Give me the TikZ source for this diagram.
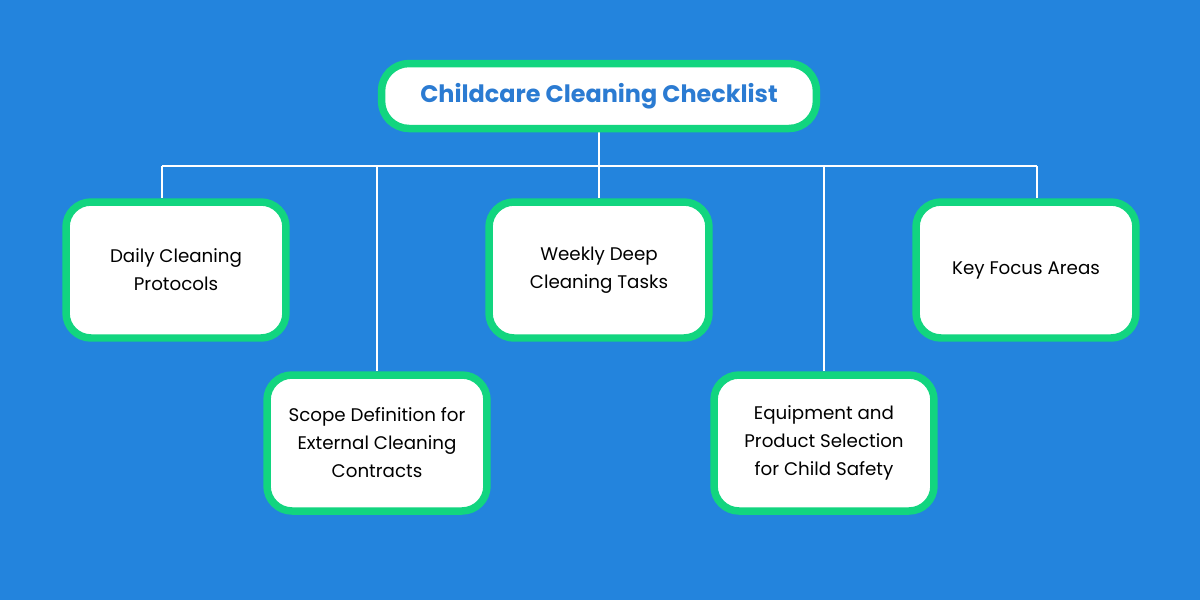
\documentclass[tikz,border=0pt]{standalone}
\usepackage{fontspec}
\setmainfont{Poppins}
\usepackage{xcolor}
\usetikzlibrary{backgrounds}
\definecolor{bgblue}{HTML}{2384DD}
\definecolor{boxgreen}{HTML}{12D57F}
\definecolor{titleblue}{HTML}{2B7BD2}

\begin{document}
\begin{tikzpicture}[x=0.02cm,y=-0.02cm,
  topic/.style={draw=boxgreen,line width=0.15cm,fill=white,rounded corners=0.5cm,
    minimum width=4.4cm,minimum height=2.72cm,align=center,
    font=\fontsize{10.4}{15.9}\selectfont,text=black},
  rootbox/.style={topic,minimum width=8.7cm,minimum height=1.3cm,rounded corners=0.55cm,
    font=\fontsize{13.6}{16}\selectfont\bfseries,text=titleblue},
  bus/.style={draw=white,line width=0.04cm}]
%% root and topics
\node[rootbox] (root) at (599,96) {Childcare Cleaning Checklist};
\node[topic] (daily) at (176,270) {Daily Cleaning\\Protocols};
\node[topic] (weekly) at (599,270) {Weekly Deep\\Cleaning Tasks};
\node[topic] (focus) at (1026,270) {Key Focus Areas};
\node[topic] (scope) at (377,443) {Scope Definition for\\External Cleaning\\Contracts};
\node[topic] (equip) at (824,443) {Equipment and\\Product Selection\\for Child Safety};
%% connectors, behind the boxes
\coordinate (busL) at (162,166);
\coordinate (busR) at (1037,166);
\begin{pgfonlayer}{background}
\fill[bgblue] (0,0) rectangle (1200,600);
\draw[bus] (busL) -- (busR);
\draw[bus] (root.south) -- (weekly.north);
\draw[bus] (busL) -- (busL |- daily.north);
\draw[bus] (busR) -- (busR |- focus.north);
\draw[bus] (scope.north |- busL) -- (scope.north);
\draw[bus] (equip.north |- busL) -- (equip.north);
\end{pgfonlayer}
\end{tikzpicture}
\end{document}
